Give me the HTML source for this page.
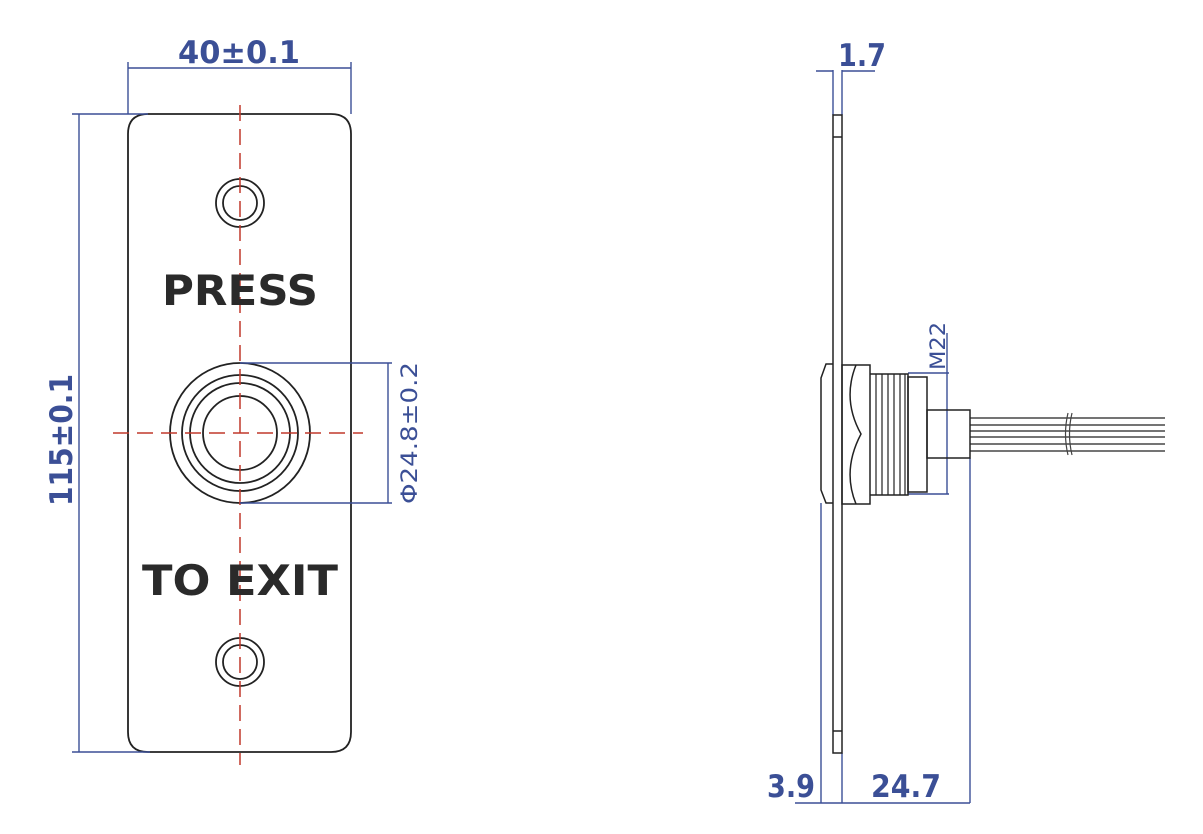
<!DOCTYPE html>
<html><head><style>body{margin:0;background:#fff}svg{display:block}</style></head><body>
<svg width="1203" height="834" viewBox="0 0 1203 834" xmlns="http://www.w3.org/2000/svg">
<g fill="none" stroke="#222" stroke-width="1.8">
<path d="M148 114 H331 Q351 114 351 134 V732 Q351 752 331 752 H148 Q128 752 128 732 V134 Q128 114 148 114 Z"/>
<circle cx="240" cy="203" r="24"/><circle cx="240" cy="203" r="17"/>
<circle cx="240" cy="662" r="24"/><circle cx="240" cy="662" r="17"/>
<circle cx="240" cy="433" r="70"/><circle cx="240" cy="433" r="58"/><circle cx="240" cy="433" r="50"/><circle cx="240" cy="433" r="37"/>
</g>
<g stroke="#c0392b" stroke-width="1.5" stroke-dasharray="16 8">
<line x1="240" y1="105" x2="240" y2="765"/>
<line x1="113" y1="433" x2="363" y2="433"/>
</g>
<g font-family="DejaVu Sans, Liberation Sans, sans-serif" font-weight="bold" fill="#2a2a2a" text-anchor="middle">
<text x="240" y="305" font-size="42" textLength="156" lengthAdjust="spacingAndGlyphs">PRESS</text>
<text x="240" y="595" font-size="42" textLength="196" lengthAdjust="spacingAndGlyphs">TO EXIT</text>
</g>
<g stroke="#3b4f96" stroke-width="1.4" fill="none">
<line x1="128" y1="62" x2="128" y2="114"/><line x1="351" y1="62" x2="351" y2="114"/>
<line x1="128" y1="68" x2="351" y2="68"/>
<line x1="72" y1="114" x2="148" y2="114"/><line x1="72" y1="752" x2="150" y2="752"/>
<line x1="79" y1="114" x2="79" y2="752"/>
<line x1="240" y1="363" x2="392" y2="363"/><line x1="240" y1="503" x2="392" y2="503"/>
<line x1="388" y1="363" x2="388" y2="503"/>
<line x1="833" y1="70" x2="833" y2="115"/><line x1="842" y1="70" x2="842" y2="115"/>
<line x1="816" y1="71" x2="833" y2="71"/><line x1="842" y1="71" x2="875" y2="71"/>
<line x1="821" y1="503" x2="821" y2="803"/><line x1="842" y1="753" x2="842" y2="803"/>
<line x1="970" y1="458" x2="970" y2="803"/>
<line x1="795" y1="803" x2="970" y2="803"/>
<line x1="908" y1="373" x2="949" y2="373"/><line x1="908" y1="494" x2="949" y2="494"/>
<line x1="947" y1="333" x2="947" y2="494"/>
</g>
<g font-family="DejaVu Sans, Liberation Sans, sans-serif" font-weight="bold" fill="#3b4f96">
<text x="239" y="63" font-size="31" text-anchor="middle" textLength="122" lengthAdjust="spacingAndGlyphs">40±0.1</text>
<text transform="translate(72 440) rotate(-90)" font-size="31" text-anchor="middle" textLength="132" lengthAdjust="spacingAndGlyphs">115±0.1</text>
<text transform="translate(417 433) rotate(-90)" font-size="22" font-weight="normal" text-anchor="middle" textLength="142" lengthAdjust="spacingAndGlyphs">Φ24.8±0.2</text>
<text x="838" y="66" font-size="31" textLength="48" lengthAdjust="spacingAndGlyphs">1.7</text>
<text x="767" y="797" font-size="31" textLength="48" lengthAdjust="spacingAndGlyphs">3.9</text>
<text x="906" y="797" font-size="31" text-anchor="middle" textLength="70" lengthAdjust="spacingAndGlyphs">24.7</text>
<text transform="translate(945 370) rotate(-90)" font-size="21" font-weight="normal" textLength="48" lengthAdjust="spacingAndGlyphs">M22</text>
</g>
<g fill="none" stroke="#222" stroke-width="1.5">
<rect x="833" y="115" width="9" height="638"/>
<line x1="833" y1="137" x2="842" y2="137"/><line x1="833" y1="731" x2="842" y2="731"/>
<path d="M833 364 H826 L821 378 V490 L826 503 H833"/>
<path d="M842 365 H870 V504 H842 Z"/>
<path d="M856 365 Q842 400 861 434 Q842 470 856 504"/>
<path d="M870 374 H908 V495 H870"/>
<rect x="908" y="377" width="19" height="115"/>
<rect x="927" y="410" width="43" height="48"/>
</g>
<g stroke="#222" stroke-width="1.2">
<line x1="876" y1="374" x2="876" y2="495"/><line x1="882" y1="374" x2="882" y2="495"/><line x1="888" y1="374" x2="888" y2="495"/><line x1="894" y1="374" x2="894" y2="495"/><line x1="900" y1="374" x2="900" y2="495"/><line x1="905" y1="374" x2="905" y2="495"/>
<line x1="970" y1="418" x2="1165" y2="418"/><line x1="970" y1="425" x2="1165" y2="425"/><line x1="970" y1="431" x2="1165" y2="431"/><line x1="970" y1="437" x2="1165" y2="437"/><line x1="970" y1="444" x2="1165" y2="444"/><line x1="970" y1="451" x2="1165" y2="451"/>
<path d="M1068 413 Q1063 434 1068 455 M1072 413 Q1067 434 1072 455" fill="none" stroke="#444"/>
</g>
</svg>
</body></html>
